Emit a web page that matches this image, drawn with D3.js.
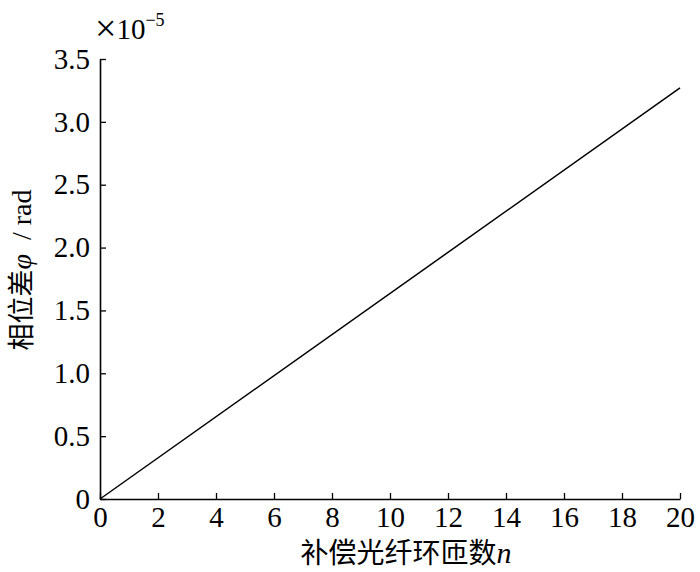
<!DOCTYPE html>
<html><head><meta charset="utf-8">
<script src="https://cdn.jsdelivr.net/npm/d3@7"></script>
<style>body{margin:0;background:#fff}
.serif{font-family:"Liberation Serif","Times New Roman",serif}
.cjk{font-family:"Noto Sans CJK SC",sans-serif}
</style>
</head><body>
<svg id="c" width="700" height="572"></svg>
<script>
const nValues = [0, 20];
const phaseValues = [0, 3.27];
const xTicks = [0,2,4,6,8,10,12,14,16,18,20];
const yTicks = [0,0.5,1.0,1.5,2.0,2.5,3.0,3.5];
const yTickLabels = ["0","0.5","1.0","1.5","2.0","2.5","3.0","3.5"];

const svg = d3.select("#c");
const L=100, R=680, T=59, B=499;
const x = d3.scaleLinear().domain([0,20]).range([L,R]);
const y = d3.scaleLinear().domain([0,3.5]).range([B,T]);

const xAxis = d3.axisBottom(x).tickValues(xTicks).tickSizeInner(-6).tickSizeOuter(0).tickPadding(8).tickFormat(d3.format("d"));
const gx = svg.append("g").attr("transform",`translate(0,${B})`).call(xAxis);
const yAxis = d3.axisLeft(y).tickValues(yTicks).tickSizeInner(-6).tickSizeOuter(0).tickPadding(10).tickFormat((d,i)=>yTickLabels[i]);
const gy = svg.append("g").attr("transform",`translate(${L},0)`).call(yAxis);
[gx,gy].forEach(g=>{
  g.attr("font-family","Liberation Serif, Times New Roman, serif").attr("font-size",29);
  g.selectAll("path").attr("stroke","#000").attr("stroke-width",1.6);
  g.selectAll("line").attr("stroke","#000").attr("stroke-width",1.3);
  g.selectAll("text").attr("fill","#000");
});
gx.selectAll("text").attr("dy","0.68em");

const data = nValues.map((n,i)=>({n, v: phaseValues[i]}));
svg.append("path").datum(data)
  .attr("d", d3.line().x(d=>x(d.n)).y(d=>y(d.v)))
  .attr("fill","none").attr("stroke","#000").attr("stroke-width",1.5);

// exponent label
const ex = svg.append("text").attr("class","serif").attr("x",95).attr("y",39).style("font-size","29px").attr("fill","#000");
ex.append("tspan").style("font-size","38px").attr("dy",2).text("×");
ex.append("tspan").attr("dy",-2).text("10");
ex.append("tspan").style("font-size","18px").attr("dy",-13).text("−5");

// x label
const xl = svg.append("text").attr("x",406).attr("y",563).attr("text-anchor","middle").attr("fill","#000");
xl.append("tspan").attr("class","cjk").style("font-size","28px").text("补偿光纤环匝数");
xl.append("tspan").attr("class","serif").style("font-style","italic").style("font-size","30px").text("n");

// y label
const yl = svg.append("text").attr("transform","translate(31,270) rotate(-90)").attr("text-anchor","middle").attr("fill","#000");
yl.append("tspan").attr("class","cjk").style("font-size","27px").text("相位差");
yl.append("tspan").attr("class","serif").style("font-style","italic").style("font-size","28px").text("φ");
yl.append("tspan").attr("class","serif").style("font-size","28px").style("white-space","pre").text("  / rad");
</script>
</body></html>
